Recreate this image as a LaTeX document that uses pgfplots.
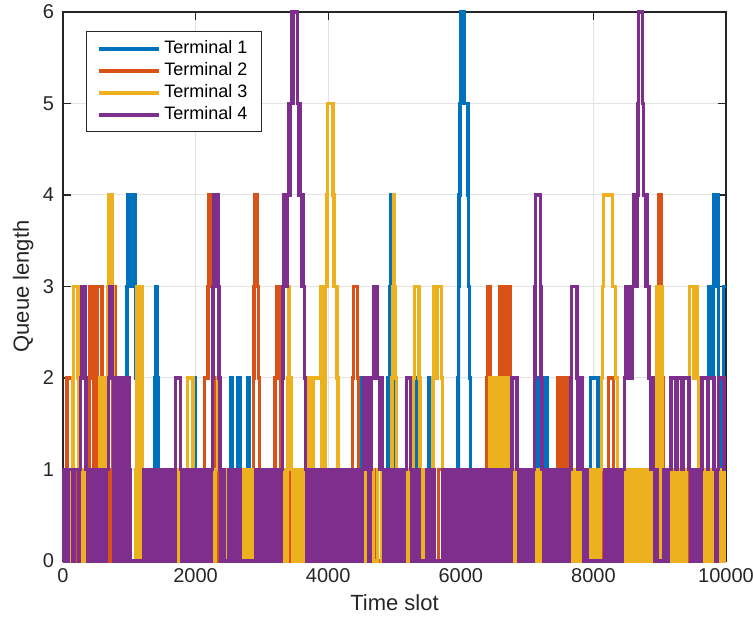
\documentclass[border=0pt]{standalone}
\usepackage{fontspec}
\setmainfont{Liberation Sans}
\usepackage{pgfplots}
\pgfplotsset{compat=1.18}

\definecolor{mblue}{HTML}{0072BD}
\definecolor{mred}{HTML}{D95319}
\definecolor{myellow}{HTML}{EDB120}
\definecolor{mpurple}{HTML}{7E2F8E}
\definecolor{axgray}{HTML}{262626}

\begin{document}
\begin{tikzpicture}
\begin{axis}[
  scale only axis, width=331.5pt, height=274.5pt,
  xmin=0, xmax=10000, ymin=0, ymax=6,
  xtick={0,2000,4000,6000,8000,10000}, ytick={0,1,2,3,4,5,6},
  scaled x ticks=false,
  /pgf/number format/1000 sep={},
  /pgf/number format/assume math mode=true,
  tick label style={font=\fontsize{10}{12}\selectfont, text=axgray},
  yticklabel style={xshift=-1pt},
  label style={font=\fontsize{11}{13}\selectfont, text=axgray},
  xlabel={Time slot}, ylabel={Queue length},
  xlabel style={yshift=0.5pt},
  ylabel style={at={(axis description cs:-0.034,0.5)}, anchor=south},
  axis line style={axgray, line width=0.6pt},
  tick style={axgray, line width=0.6pt}, tick align=inside,
  major tick length=4pt,
  grid=major, grid style={gray!22, line width=0.5pt},
  clip=false,
  every axis plot/.append style={const plot, line width=1.7pt, line join=miter},
  legend style={at={(0.035,0.965)}, anchor=north west,
    font=\fontsize{9}{11}\selectfont, draw=axgray, line width=0.5pt,
    fill=white, inner xsep=5pt, inner ysep=3pt,
    nodes={inner ysep=1.5pt, inner xsep=2pt},
    row sep=0pt},
  legend cell align=left,
  legend image code/.code={\draw[line width=1.8pt] (0pt,0pt) -- (30pt,0pt);},
]
% Terminal 1
\addplot[mblue] coordinates {
(0,0)(40,1)(90,0)(160,1)(220,0)(300,1)(370,0)(450,1)(520,0)(600,1)(680,0)(760,1)(840,0)(900,1)
(950,2)(965,3)(980,4)(1040,3)(1055,4)(1085,3)(1100,2)(1120,1)(1160,0)(1230,1)(1300,0)
(1370,1)(1385,2)(1395,3)(1420,2)(1440,1)(1470,0)(1540,1)(1610,0)(1680,1)(1750,0)(1820,1)(1890,0)
(1950,1)(1975,2)(2000,1)(2030,0)(2100,1)(2170,0)(2240,1)(2310,0)(2380,1)(2450,0)(2510,1)(2530,2)
(2560,1)(2640,2)(2670,1)(2700,0)(2770,1)(2790,2)(2810,1)(2840,0)(2910,1)(2980,0)(3050,1)(3120,0)
(3190,1)(3260,0)(3330,1)(3400,0)(3470,1)(3540,0)(3610,1)(3680,0)(3750,1)(3820,0)(3890,1)(3960,0)
(4030,1)(4100,0)(4170,1)(4240,0)(4310,1)(4380,0)(4450,1)(4500,2)(4540,1)(4570,2)(4620,1)(4660,0)
(4730,1)(4800,0)(4870,1)(4900,2)(4920,3)(4940,4)(4985,3)(5000,2)(5020,1)(5060,0)(5130,1)(5200,0)
(5270,1)(5330,2)(5360,1)(5400,0)(5470,1)(5520,2)(5550,1)(5590,0)(5660,1)(5730,0)(5800,1)(5870,0)
(5940,1)(5955,2)(5965,3)(5975,4)(5985,5)(5995,6)(6050,5)(6110,4)(6120,3)(6130,2)(6150,1)(6190,0)
(6260,1)(6330,0)(6400,1)(6470,0)(6540,1)(6610,0)(6680,1)(6750,0)(6820,1)(6890,0)(6960,1)(7030,0)
(7100,1)(7160,2)(7190,1)(7240,2)(7300,1)(7340,0)(7410,1)(7480,0)(7550,1)(7620,0)(7690,1)(7760,0)
(7830,1)(7900,0)(7940,1)(7960,2)(8070,1)(8100,0)(8170,1)(8240,0)(8310,1)(8380,0)(8450,1)(8520,0)
(8590,1)(8660,0)(8730,1)(8800,0)(8870,1)(8940,0)(9010,1)(9080,0)(9150,1)(9220,0)(9290,1)(9360,0)
(9430,1)(9500,0)(9570,1)(9640,0)(9700,1)(9720,2)(9735,3)(9750,2)(9765,3)(9800,2)(9810,3)(9820,4)
(9880,3)(9890,2)(9910,1)(9950,2)(9965,3)(10000,3)};
\addlegendentry{Terminal 1}
% Terminal 2
\addplot[mred] coordinates {
(0,0)(50,1)(60,2)(150,1)(180,0)(220,1)(260,0)(300,1)(340,0)(380,1)(395,2)(410,3)(450,2)(470,1)
(500,2)(515,3)(590,2)(610,1)(640,0)(680,1)(720,0)(750,2)(765,3)(790,2)(810,1)(840,0)(880,1)(920,0)
(960,1)(1000,0)(1100,1)(1140,0)(1200,1)(1250,0)(1300,1)(1360,0)(1420,1)(1480,0)(1540,1)(1600,0)
(1660,1)(1720,0)(1780,1)(1840,0)(1900,1)(1960,0)(2020,1)(2060,0)(2100,1)(2130,2)(2190,3)(2205,4)
(2250,3)(2265,2)(2290,1)(2320,0)(2380,1)(2440,0)(2500,1)(2560,0)(2620,1)(2680,0)(2740,1)(2800,0)
(2860,1)(2870,2)(2880,3)(2890,4)(2930,3)(2945,2)(2960,1)(2990,0)(3050,1)(3110,0)(3170,1)(3200,2)
(3230,3)(3265,2)(3280,1)(3310,0)(3370,1)(3430,0)(3500,1)(3560,0)(3620,1)(3680,0)(3740,1)(3800,0)
(3860,1)(3920,0)(3980,1)(4040,0)(4100,1)(4160,0)(4220,1)(4280,0)(4340,1)(4365,2)(4380,3)(4440,2)
(4460,1)(4490,0)(4550,1)(4610,0)(4670,1)(4730,0)(4800,1)(4860,0)(4930,1)(4990,0)(5060,1)(5120,0)
(5180,1)(5240,0)(5300,1)(5360,0)(5420,1)(5480,0)(5540,1)(5600,0)(5660,1)(5720,0)(5780,1)(5840,0)
(5900,1)(5960,0)(6020,1)(6080,0)(6140,1)(6200,0)(6260,1)(6320,0)(6370,1)(6385,2)(6400,3)(6440,2)
(6455,1)(6480,2)(6520,1)(6560,2)(6590,3)(6620,2)(6640,3)(6670,2)(6690,3)(6740,2)(6760,1)(6790,0)
(6850,1)(6910,0)(6970,1)(7030,0)(7090,1)(7150,0)(7210,1)(7270,0)(7330,1)(7390,0)(7440,1)(7460,2)
(7490,1)(7510,2)(7540,1)(7560,2)(7590,1)(7610,2)(7650,1)(7680,0)(7740,1)(7800,0)(7860,1)(7920,0)
(7980,1)(8040,0)(8100,1)(8160,0)(8220,1)(8230,2)(8300,1)(8330,0)(8390,1)(8450,0)(8510,1)(8570,0)
(8640,1)(8670,0)(8700,1)(8720,0)(8740,1)(8760,0)(8780,1)(8800,0)(8820,1)(8840,0)(8860,1)(8880,0)
(8920,1)(8960,2)(8970,3)(8980,4)(9030,3)(9040,2)(9050,1)(9080,0)(9140,1)(9200,0)(9260,1)(9320,0)
(9380,1)(9440,0)(9500,1)(9560,0)(9620,1)(9680,0)(9740,1)(9800,0)(9860,1)(9920,0)(9980,1)(10000,1)};
\addlegendentry{Terminal 2}
% Terminal 3
\addplot[myellow] coordinates {
(0,0)(20,1)(50,0)(70,1)(110,0)(140,1)(150,2)(160,3)(225,2)(240,1)(270,0)(300,1)(340,0)(380,1)
(420,0)(460,1)(500,0)(540,1)(560,2)(600,1)(620,2)(660,1)(670,2)(680,3)(690,4)(740,3)(755,2)(770,1)
(800,0)(830,1)(870,0)(900,1)(940,0)(970,1)(1000,0)(1100,1)(1110,3)(1130,0)(1145,3)(1165,0)(1180,3)
(1200,1)(1215,0)(1270,1)(1310,0)(1360,1)(1400,0)(1450,1)(1500,0)(1550,1)(1600,0)(1650,1)(1700,0)
(1750,1)(1800,0)(1850,1)(1880,2)(1960,1)(1990,0)(2030,1)(2080,0)(2120,1)(2160,0)(2200,1)(2250,0)
(2290,1)(2330,2)(2360,1)(2380,0)(2400,1)(2440,0)(2460,1)(2490,0)(2510,1)(2540,0)(2560,1)(2590,0)
(2610,1)(2640,0)(2680,1)(2710,0)(2730,1)(2760,0)(2780,1)(2810,0)(2830,1)(2860,0)(2880,1)(2910,0)
(2950,1)(3000,0)(3050,1)(3100,0)(3150,1)(3200,0)(3250,1)(3290,0)(3320,1)(3350,0)(3380,1)(3390,2)
(3400,3)(3420,2)(3440,1)(3470,0)(3500,1)(3540,0)(3570,1)(3610,0)(3640,1)(3680,0)(3700,1)(3710,2)
(3760,1)(3780,2)(3880,3)(3900,1)(3920,3)(3940,1)(3960,3)(3980,4)(3990,5)(4070,4)(4090,3)(4130,2)
(4150,1)(4180,0)(4200,1)(4240,0)(4300,1)(4350,0)(4400,1)(4450,0)(4500,1)(4560,0)(4620,1)(4680,0)
(4740,1)(4800,0)(4860,1)(4900,0)(4930,1)(4960,2)(4975,3)(4985,4)(5000,3)(5010,2)(5030,1)(5070,0)
(5120,1)(5170,0)(5220,1)(5260,0)(5280,1)(5290,2)(5300,3)(5370,2)(5385,1)(5400,0)(5420,1)(5440,0)
(5460,1)(5480,0)(5500,1)(5530,0)(5570,1)(5580,2)(5590,3)(5640,2)(5650,3)(5710,2)(5725,1)(5745,0)
(5780,1)(5830,0)(5880,1)(5930,0)(5980,1)(6030,0)(6080,1)(6130,0)(6180,1)(6230,0)(6280,1)(6330,0)
(6380,1)(6430,2)(6460,1)(6480,2)(6510,1)(6530,2)(6560,1)(6580,2)(6610,1)(6630,2)(6660,1)(6680,2)
(6720,1)(6750,0)(6800,1)(6850,0)(6900,1)(6950,0)(7000,1)(7050,0)(7100,1)(7150,0)(7180,1)(7220,0)
(7260,1)(7300,0)(7340,1)(7390,0)(7440,1)(7490,0)(7540,1)(7590,0)(7640,1)(7690,0)(7740,1)(7790,0)
(7840,1)(7870,0)(7900,1)(7930,0)(7950,1)(7980,0)(8000,1)(8030,0)(8050,1)(8080,0)(8100,1)(8120,2)
(8140,3)(8150,4)(8290,3)(8330,2)(8360,1)(8400,0)(8450,1)(8500,0)(8550,1)(8600,0)(8650,1)(8700,0)
(8750,1)(8800,0)(8850,1)(8900,0)(8940,1)(8955,3)(8975,0)(8990,3)(9010,0)(9025,3)(9045,1)(9060,0)
(9100,1)(9150,0)(9200,1)(9250,0)(9300,1)(9350,0)(9400,1)(9440,2)(9450,3)(9520,2)(9540,3)(9570,2)
(9590,1)(9620,0)(9660,1)(9700,0)(9740,1)(9780,0)(9820,1)(9860,0)(9900,1)(9940,0)(9980,1)(10000,1)};
\addlegendentry{Terminal 3}
% Terminal 4
\addplot[mpurple] coordinates {
(0,0)(15,1)(60,0)(80,1)(150,0)(175,1)(230,0)(250,1)(262,2)(275,3)(300,2)(315,3)(330,2)(345,1)
(370,0)(395,1)(430,0)(450,1)(500,0)(520,1)(560,0)(590,1)(640,0)(660,1)(690,2)(700,3)(740,2)(760,0)
(775,2)(790,0)(805,2)(820,0)(835,2)(850,0)(865,2)(880,1)(895,2)(910,0)(925,2)(940,0)(955,2)(970,0)
(985,2)(1000,1)(1010,0)(1215,1)(1250,0)(1275,1)(1320,0)(1345,1)(1380,0)(1400,1)(1450,0)(1470,1)
(1520,0)(1560,1)(1600,0)(1630,1)(1660,0)(1690,1)(1700,2)(1770,1)(1790,0)(1820,1)(1850,0)(1880,1)
(1930,0)(1960,1)(2000,0)(2030,1)(2070,0)(2100,1)(2140,0)(2170,1)(2200,0)(2230,1)(2255,2)(2265,3)
(2275,4)(2340,3)(2355,2)(2370,1)(2385,0)(2410,1)(2440,0)(2500,1)(2540,0)(2560,1)(2600,0)(2630,1)
(2670,0)(2910,1)(2950,0)(2970,1)(3000,0)(3030,1)(3070,0)(3100,1)(3140,0)(3170,1)(3210,0)(3240,1)
(3280,0)(3300,1)(3310,2)(3320,3)(3330,4)(3345,3)(3360,4)(3375,3)(3390,4)(3405,5)(3420,4)(3435,5)
(3450,6)(3470,5)(3480,6)(3540,5)(3555,4)(3570,5)(3585,4)(3600,3)(3615,4)(3630,3)(3645,2)(3660,1)
(3680,0)(3700,1)(3740,0)(3760,1)(3800,0)(3830,1)(3870,0)(3900,1)(3940,0)(3970,1)(4010,0)(4040,1)
(4080,0)(4110,1)(4150,0)(4180,1)(4220,0)(4250,1)(4290,0)(4320,1)(4360,0)(4390,1)(4430,0)(4460,1)
(4500,0)(4520,1)(4530,2)(4560,1)(4580,2)(4610,0)(4630,1)(4650,2)(4690,3)(4740,2)(4770,1)(4790,2)
(4820,1)(4840,0)(4870,1)(4910,0)(4940,1)(4980,0)(5010,1)(5050,0)(5080,1)(5120,0)(5150,1)(5180,2)
(5240,1)(5260,0)(5290,1)(5320,0)(5360,1)(5380,0)(5490,1)(5530,0)(5560,1)(5600,0)(5720,1)(5760,0)
(5790,1)(5830,0)(5860,1)(5900,0)(5930,1)(5970,0)(6000,1)(6040,0)(6070,1)(6110,0)(6140,1)(6180,0)
(6210,1)(6250,0)(6280,1)(6320,0)(6350,1)(6390,0)(6420,1)(6460,0)(6490,1)(6530,0)(6560,1)(6600,0)
(6630,1)(6670,0)(6700,1)(6740,0)(6760,1)(6770,2)(6850,1)(6870,0)(6900,1)(6940,0)(6970,1)(7010,0)
(7040,1)(7080,0)(7100,1)(7110,2)(7120,3)(7130,4)(7200,3)(7210,2)(7225,1)(7250,0)(7280,1)(7320,0)
(7350,1)(7390,0)(7420,1)(7460,0)(7490,1)(7530,0)(7560,1)(7600,0)(7630,1)(7660,2)(7670,3)(7750,2)
(7770,1)(7790,2)(7830,1)(7860,0)(7890,1)(7910,0)(8170,1)(8200,0)(8230,1)(8270,0)(8300,1)(8340,0)
(8370,1)(8410,0)(8440,1)(8470,2)(8480,3)(8510,2)(8530,3)(8560,2)(8580,3)(8610,4)(8640,3)(8655,4)
(8670,5)(8680,6)(8740,5)(8760,4)(8790,3)(8800,4)(8820,3)(8840,2)(8860,1)(8880,2)(8900,1)(8920,0)
(8950,1)(8960,0)(9060,1)(9100,0)(9130,1)(9170,2)(9245,1)(9270,2)(9330,1)(9360,2)(9440,1)(9470,0)
(9500,1)(9540,0)(9570,1)(9600,0)(9630,1)(9640,2)(9730,1)(9740,2)(9820,1)(9850,0)(9870,1)(9890,2)
(9970,1)(10000,1)};
\addlegendentry{Terminal 4}
\end{axis}
\pgfresetboundingbox
\path ([xshift=-31.5pt,yshift=-33.5pt]current axis.south west)
  rectangle ([xshift=13.5pt,yshift=6pt]current axis.north east);
\end{tikzpicture}
\end{document}
